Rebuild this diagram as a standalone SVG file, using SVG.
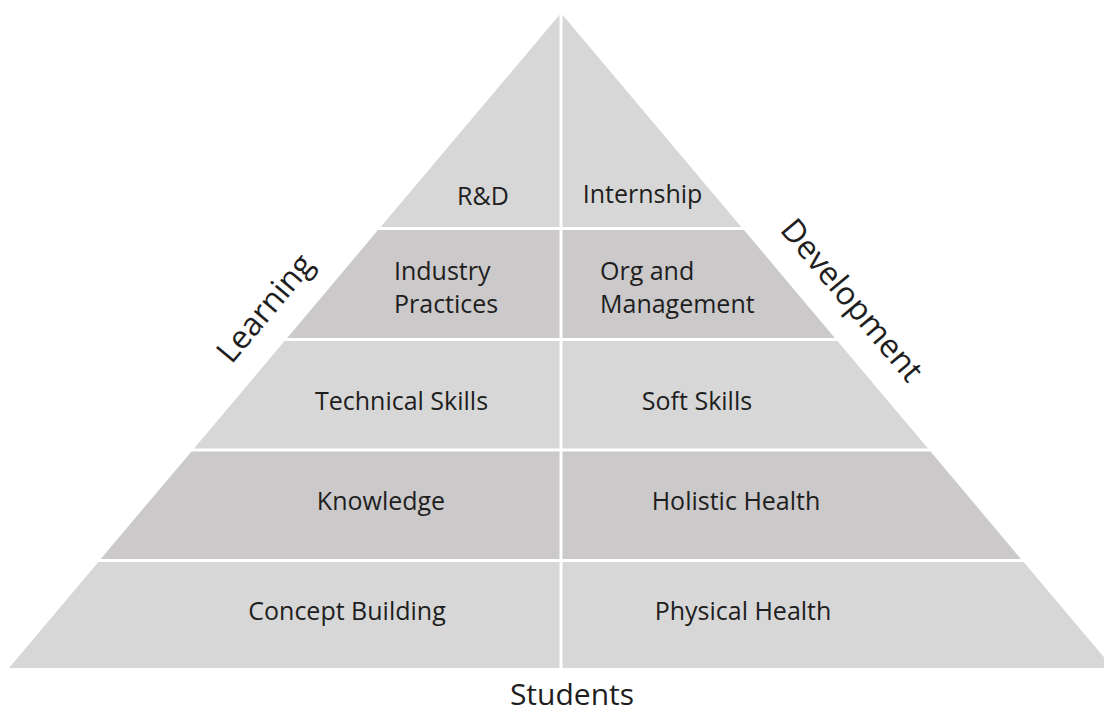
<svg xmlns="http://www.w3.org/2000/svg" width="1104" height="715" viewBox="0 0 1104 715">
<style>
.light{fill:#d7d7d7}
.dark{fill:#cbc9ca}
.gap{stroke:#ffffff;stroke-width:3}
text{font-family:"Open Sans","DejaVu Sans",sans-serif;fill:#1e1e1e;font-size:25px}
.c{text-anchor:middle}
.side{font-size:32px;text-anchor:middle}
</style>
<rect width="1104" height="715" fill="#ffffff"/>
<g id="pyramid">
<polygon class="light" points="561,13 9,668 1113,668"/>
<polygon class="dark" points="379,229 743,229 836,340 286,340"/>
<polygon class="dark" points="193,450 929,450 1021,560 100,560"/>
</g>
<g id="gaps">
<line class="gap" x1="0" y1="228.5" x2="1104" y2="228.5"/>
<line class="gap" x1="0" y1="339.5" x2="1104" y2="339.5"/>
<line class="gap" x1="0" y1="450" x2="1104" y2="450"/>
<line class="gap" x1="0" y1="560.5" x2="1104" y2="560.5"/>
<line class="gap" x1="561" y1="10" x2="561" y2="670"/>
</g>
<g id="node-rd"><text class="c" x="483" y="205">R&amp;D</text></g>
<g id="node-internship"><text class="c" x="642.5" y="203">Internship</text></g>
<g id="node-industry"><text x="394" y="280">Industry</text><text x="394" y="313">Practices</text></g>
<g id="node-org"><text x="600" y="280">Org and</text><text x="600" y="313">Management</text></g>
<g id="node-technical"><text class="c" x="401.5" y="410">Technical Skills</text></g>
<g id="node-soft"><text class="c" x="697" y="410">Soft Skills</text></g>
<g id="node-knowledge"><text class="c" x="381" y="510">Knowledge</text></g>
<g id="node-holistic"><text class="c" x="736" y="510">Holistic Health</text></g>
<g id="node-concept"><text class="c" x="347" y="620">Concept Building</text></g>
<g id="node-physical"><text class="c" x="743" y="620">Physical Health</text></g>
<g id="label-students"><text class="c" x="572" y="705" style="font-size:30px">Students</text></g>
<g id="label-learning"><text class="side" transform="translate(265,308) rotate(-50)" y="11">Learning</text></g>
<g id="label-development"><text class="side" transform="translate(852,300) rotate(50)" y="11">Development</text></g>
</svg>
